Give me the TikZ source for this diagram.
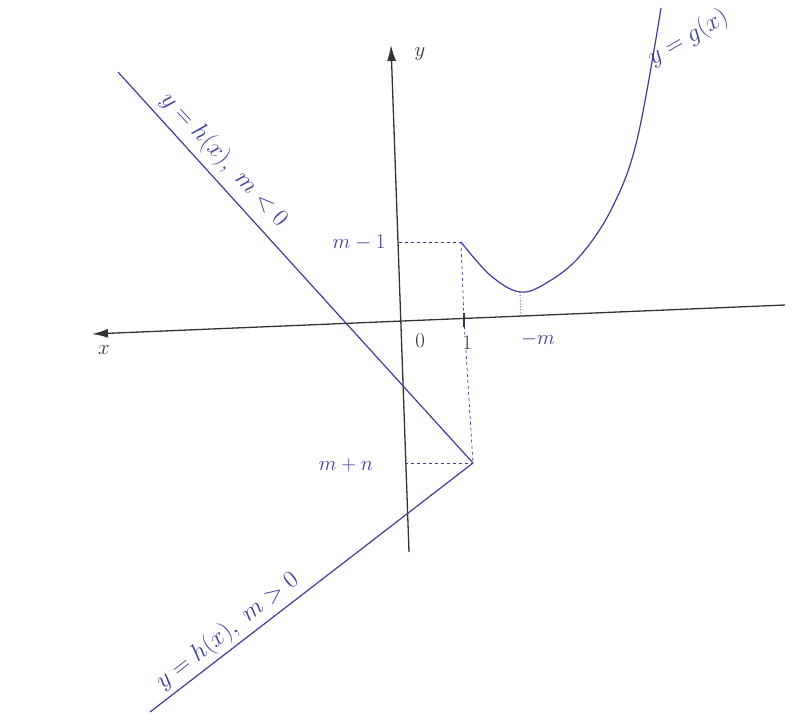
\documentclass[tikz,border=0pt]{standalone}
\usetikzlibrary{arrows.meta}
\definecolor{ink}{HTML}{3F3D9C}
\definecolor{pencil}{HTML}{333333}
\begin{document}
\begin{tikzpicture}[x=1pt,y=-1pt,
  axis/.style={draw=pencil,line width=1.3pt},
  inkline/.style={draw=ink,line width=1.2pt},
  guide/.style={draw=ink,dashed,line width=0.7pt},
  lbl/.style={text=ink,font=\fontsize{20}{24}\selectfont,inner sep=1pt},
  biglbl/.style={text=ink,font=\fontsize{25}{30}\selectfont,inner sep=1pt},
  axlbl/.style={text=pencil,font=\fontsize{22}{26}\selectfont,inner sep=1pt}]
\useasboundingbox[fill=white] (0,0) rectangle (797,720);
% axes
\coordinate (xr) at (785,305);
\coordinate (xl) at (92,334);
\coordinate (yb) at (409,552);
\coordinate (yt) at (391,45);
\draw[axis,-{Latex[length=16pt,width=9pt]}] (xr) -- (xl);
\draw[axis,-{Latex[length=16pt,width=9pt]}] (yb) -- (yt);
\node[axlbl] (xlab) at (104,350) {$x$};
\node[axlbl] (ylab) at (420,54) {$y$};
\node[axlbl] (o) at (420,341) {$0$};
\coordinate (tick) at (464,320);
\draw[axis] (464,313) -- (464,327);
% key points
\coordinate (A) at (461,242);   % (1, m-1)
\coordinate (Ay) at (399,242);
\coordinate (B) at (473,463);   % (1, m+n)
\coordinate (By) at (405,463);
\coordinate (V) at (520,292);   % vertex
\coordinate (Vx) at (521,318);
% guides
\draw[guide] (Ay) -- (A);
\draw[guide] (A) -- (tick) -- (B);
\draw[guide] (By) -- (B);
\draw[ink,dotted,line width=0.9pt] (V) -- (Vx);
\node[axlbl,fill=white,inner sep=0.5pt] (one) at (467,343) {$1$};
% g curve
\draw[inkline] plot[smooth,tension=0.6] coordinates
  {(A) (490,275) (V) (548,282) (580,256) (612,208) (637,140) (661,8)};
% h lines
\coordinate (H1) at (118,72);
\coordinate (H2) at (150,712);
\draw[inkline] (H1) -- (B);
\draw[inkline] (B) -- (H2);
% labels
\node[lbl] (lm1) at (359,243) {$m-1$};
\node[lbl] (lmn) at (346,465) {$m+n$};
\node[lbl] (lmm) at (538,339) {$-m$};
\node[biglbl,rotate=30] (lg) at (688,38) {$y=g(x)$};
\node[biglbl,rotate=-47,anchor=south] (lh1) at (214,169) {$y=h(x),\ m<0$};
\node[biglbl,rotate=38,anchor=south] (lh2) at (236,642) {$y=h(x),\ m>0$};
\end{tikzpicture}
\end{document}
